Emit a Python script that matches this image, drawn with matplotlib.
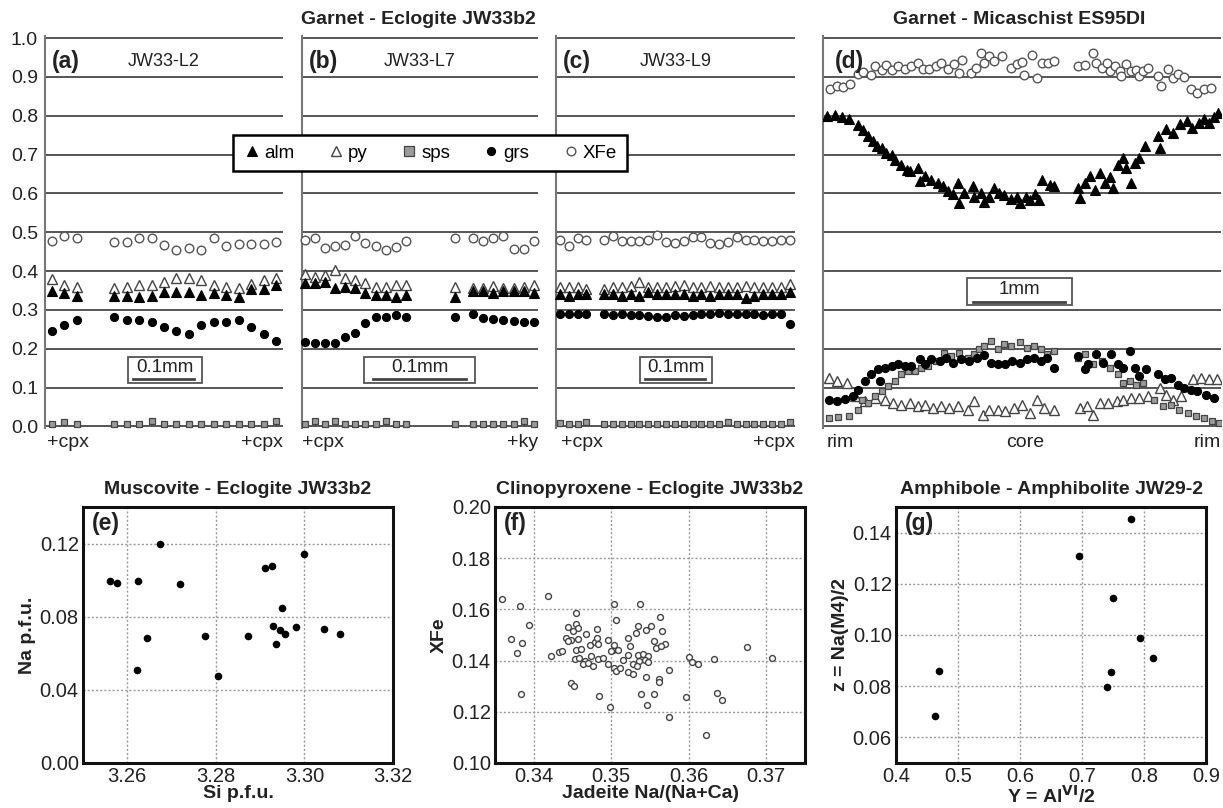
import matplotlib.pyplot as plt
from matplotlib.lines import Line2D
from matplotlib.patches import Rectangle

plt.rcParams['font.family'] = ['Liberation Sans', 'DejaVu Sans']

# ---------------- garnet profiles (a)-(c), Eclogite JW33b2 ----------------
a_x = [0, 1, 2, 5, 6, 7, 8, 9, 10, 11, 12, 13, 14, 15, 16, 17, 18]
a_xfe = [0.477, 0.49, 0.484, 0.475, 0.475, 0.486, 0.486, 0.468, 0.454, 0.46, 0.454, 0.486, 0.464, 0.471, 0.471, 0.471, 0.475]
a_py = [0.38, 0.363, 0.359, 0.356, 0.359, 0.363, 0.365, 0.373, 0.382, 0.382, 0.378, 0.365, 0.359, 0.356, 0.367, 0.378, 0.382]
a_alm = [0.35, 0.343, 0.337, 0.337, 0.337, 0.333, 0.337, 0.347, 0.347, 0.347, 0.339, 0.344, 0.339, 0.333, 0.353, 0.353, 0.363]
a_grs = [0.246, 0.261, 0.274, 0.281, 0.274, 0.274, 0.27, 0.255, 0.246, 0.239, 0.261, 0.27, 0.27, 0.275, 0.255, 0.239, 0.22]
a_sps = [0.006, 0.012, 0.006, 0.006, 0.006, 0.006, 0.013, 0.006, 0.006, 0.006, 0.006, 0.006, 0.006, 0.006, 0.006, 0.006, 0.013]

b_x = [0, 1, 2, 3, 4, 5, 6, 7, 8, 9, 10, 14.8, 16.6, 17.6, 18.6, 19.6, 20.6, 21.6, 22.6]
b_xfe = [0.481, 0.484, 0.46, 0.464, 0.468, 0.49, 0.472, 0.464, 0.455, 0.461, 0.478, 0.484, 0.484, 0.478, 0.484, 0.49, 0.456, 0.456, 0.478]
b_py = [0.392, 0.386, 0.389, 0.403, 0.382, 0.377, 0.369, 0.36, 0.36, 0.365, 0.365, 0.36, 0.356, 0.356, 0.362, 0.356, 0.356, 0.36, 0.365]
b_alm = [0.369, 0.369, 0.373, 0.356, 0.36, 0.356, 0.343, 0.339, 0.339, 0.334, 0.339, 0.334, 0.35, 0.35, 0.343, 0.35, 0.35, 0.35, 0.343]
b_grs = [0.218, 0.216, 0.216, 0.216, 0.231, 0.24, 0.266, 0.283, 0.283, 0.287, 0.283, 0.283, 0.289, 0.278, 0.277, 0.274, 0.272, 0.268, 0.268]
b_sps = [0.006, 0.013, 0.006, 0.013, 0.006, 0.006, 0.006, 0.006, 0.013, 0.006, 0.006, 0.006, 0.006, 0.006, 0.006, 0.006, 0.006, 0.013, 0.006]

c_x = [0, 1, 2, 3, 5, 6, 7, 8, 9, 10, 11, 12, 13, 14, 15, 16, 17, 18, 19, 20, 21, 22, 23, 24, 25, 26]
c_xfe = [0.48, 0.465, 0.485, 0.48, 0.48, 0.49, 0.477, 0.477, 0.477, 0.48, 0.493, 0.475, 0.472, 0.477, 0.487,
         0.487, 0.472, 0.47, 0.475, 0.487, 0.48, 0.48, 0.478, 0.478, 0.48, 0.48]
c_py = [0.36, 0.36, 0.36, 0.355, 0.355, 0.36, 0.36, 0.362, 0.372, 0.36, 0.36, 0.36, 0.362, 0.365, 0.36,
        0.36, 0.362, 0.36, 0.36, 0.36, 0.362, 0.36, 0.36, 0.36, 0.36, 0.367]
c_alm = [0.34, 0.335, 0.34, 0.34, 0.34, 0.34, 0.335, 0.34, 0.335, 0.345, 0.34, 0.34, 0.34, 0.34, 0.335,
         0.34, 0.335, 0.34, 0.34, 0.34, 0.33, 0.335, 0.34, 0.34, 0.34, 0.345]
c_grs = [0.29, 0.29, 0.29, 0.29, 0.29, 0.288, 0.29, 0.288, 0.288, 0.285, 0.283, 0.283, 0.288, 0.285, 0.288,
         0.29, 0.29, 0.293, 0.29, 0.29, 0.29, 0.29, 0.288, 0.29, 0.29, 0.265]
c_sps = [0.008, 0.006, 0.006, 0.012, 0.006, 0.006, 0.006, 0.006, 0.006, 0.006, 0.006, 0.006, 0.006, 0.006, 0.006,
         0.006, 0.006, 0.006, 0.012, 0.006, 0.006, 0.006, 0.006, 0.006, 0.006, 0.012]

# ---------------- garnet profile (d), Micaschist ES95DI (x = % of traverse) ----------------
d_xfe_x = [1.3, 3.0, 4.7, 6.4, 8.5, 9.7, 11.8, 12.7, 14.4, 15.6, 16.9, 18.6, 20.2, 21.9, 23.6, 24.9, 26.5, 28.2,
           29.5, 31.2, 32.8, 34.1, 34.9, 37.0, 38.3, 39.5, 40.4, 41.6, 42.9, 45.0, 47.1, 48.8, 50.0, 50.6, 52.6,
           53.8, 55.1, 56.7, 58.0, 64.3, 66.0, 68.1, 68.9, 70.2, 71.5, 72.3, 73.6, 74.8, 75.2, 76.5, 77.7, 79.0,
           79.8, 80.7, 81.9, 84.5, 85.3, 87.0, 88.3, 89.5, 91.2, 92.9, 94.5, 96.2, 97.9]
d_xfe = [0.87, 0.877, 0.875, 0.881, 0.907, 0.913, 0.904, 0.928, 0.918, 0.93, 0.918, 0.928, 0.92, 0.927, 0.935,
         0.92, 0.92, 0.928, 0.937, 0.921, 0.933, 0.911, 0.944, 0.911, 0.922, 0.961, 0.937, 0.954, 0.941, 0.953,
         0.922, 0.933, 0.939, 0.904, 0.956, 0.898, 0.935, 0.935, 0.941, 0.927, 0.93, 0.961, 0.937, 0.924, 0.937,
         0.916, 0.928, 0.916, 0.903, 0.933, 0.916, 0.918, 0.903, 0.916, 0.924, 0.903, 0.877, 0.92, 0.898, 0.907,
         0.901, 0.868, 0.859, 0.868, 0.872]

d_alm_x = [0.5, 2.6, 4.3, 6.0, 8.5, 9.7, 11.0, 12.3, 13.1, 14.4, 15.6, 16.9, 17.7, 19.4, 20.7, 21.5, 23.6, 24.0,
           25.3, 26.9, 28.6, 29.9, 31.2, 32.4, 33.7, 34.1, 35.4, 37.5, 37.9, 39.5, 40.4, 41.6, 42.9, 44.2, 45.4,
           47.1, 48.8, 49.6, 50.9, 52.1, 53.4, 54.3, 55.1, 57.2, 58.0, 64.3, 64.7, 66.0, 67.3, 68.5, 69.8, 71.0,
           72.3, 73.1, 74.4, 75.7, 76.5, 77.7, 78.6, 79.8, 81.1, 84.5, 84.9, 86.6, 88.3, 90.1, 91.8, 93.1, 94.8,
           96.1, 97.4, 98.6, 99.8]
d_alm = [0.8, 0.801, 0.797, 0.792, 0.775, 0.763, 0.747, 0.734, 0.721, 0.717, 0.704, 0.7, 0.687, 0.674, 0.661,
         0.657, 0.666, 0.631, 0.644, 0.635, 0.627, 0.618, 0.605, 0.599, 0.627, 0.575, 0.6, 0.618, 0.592, 0.6,
         0.579, 0.592, 0.614, 0.6, 0.597, 0.585, 0.592, 0.575, 0.592, 0.584, 0.599, 0.584, 0.635, 0.622, 0.618,
         0.614, 0.588, 0.627, 0.646, 0.61, 0.653, 0.627, 0.642, 0.614, 0.674, 0.692, 0.666, 0.627, 0.679, 0.692,
         0.721, 0.747, 0.717, 0.765, 0.756, 0.778, 0.786, 0.769, 0.782, 0.791, 0.782, 0.797, 0.806]

d_grs_x = [0.9, 3.0, 5.1, 7.2, 8.5, 10.2, 11.8, 13.5, 14.0, 15.2, 16.9, 18.6, 20.2, 21.9, 24.0, 25.3, 26.9, 29.1,
           30.7, 32.4, 34.5, 36.6, 38.7, 40.4, 42.1, 43.8, 45.8, 47.5, 49.6, 51.3, 53.0, 54.7, 56.4, 58.0, 64.3,
           66.0, 66.8, 68.9, 70.6, 72.7, 74.4, 75.7, 77.3, 78.6, 79.8, 81.4, 84.5, 86.2, 87.8, 89.5, 91.2, 92.9,
           94.5, 96.6, 98.7]
d_grs = [0.069, 0.065, 0.071, 0.078, 0.095, 0.117, 0.134, 0.147, 0.117, 0.151, 0.156, 0.16, 0.156, 0.156, 0.173,
         0.16, 0.173, 0.169, 0.177, 0.164, 0.173, 0.169, 0.177, 0.183, 0.164, 0.16, 0.162, 0.169, 0.164, 0.173,
         0.177, 0.169, 0.177, 0.151, 0.181, 0.147, 0.16, 0.186, 0.164, 0.186, 0.16, 0.151, 0.194, 0.151, 0.13,
         0.147, 0.134, 0.121, 0.125, 0.108, 0.099, 0.095, 0.091, 0.082, 0.073]

d_sps_x = [0.9, 3.4, 6.0, 8.5, 9.3, 11.0, 12.7, 14.4, 16.0, 17.7, 19.4, 21.1, 22.8, 24.4, 26.1, 28.2, 30.3, 31.9,
           34.1, 36.2, 37.9, 39.1, 40.4, 42.1, 43.8, 45.4, 47.1, 49.6, 51.3, 53.0, 54.7, 56.4, 58.0, 64.3, 66.0,
           68.1, 70.2, 72.3, 74.4, 75.7, 77.3, 79.0, 80.7, 83.6, 85.7, 87.8, 89.9, 92.0, 94.1, 96.2, 98.3, 100.0]
d_sps = [0.022, 0.024, 0.026, 0.043, 0.069, 0.06, 0.078, 0.091, 0.104, 0.117, 0.134, 0.143, 0.143, 0.151, 0.156,
         0.169, 0.19, 0.181, 0.19, 0.177, 0.186, 0.199, 0.207, 0.22, 0.199, 0.212, 0.207, 0.218, 0.203, 0.207,
         0.199, 0.186, 0.194, 0.177, 0.186, 0.16, 0.169, 0.151, 0.134, 0.112, 0.117, 0.108, 0.112, 0.069, 0.052,
         0.056, 0.043, 0.035, 0.026, 0.022, 0.013, 0.009]

d_py_x = [0.9, 3.0, 5.5, 7.6, 10.2, 12.7, 15.2, 17.3, 19.4, 21.5, 23.6, 25.3, 27.4, 29.5, 31.6, 33.7, 36.2, 37.9,
          40.0, 41.6, 43.8, 45.8, 47.9, 50.0, 52.1, 53.8, 55.5, 58.0, 64.7, 66.4, 68.1, 69.8, 71.9, 74.0, 75.7,
          77.7, 79.8, 81.9, 84.9, 86.6, 88.3, 90.3, 93.3, 95.4, 97.5, 99.6]
d_py = [0.125, 0.117, 0.112, 0.078, 0.065, 0.073, 0.069, 0.06, 0.056, 0.06, 0.052, 0.056, 0.048, 0.052, 0.048,
        0.052, 0.043, 0.065, 0.03, 0.043, 0.043, 0.039, 0.048, 0.056, 0.035, 0.069, 0.048, 0.043, 0.048, 0.052,
        0.03, 0.06, 0.06, 0.065, 0.069, 0.073, 0.073, 0.078, 0.099, 0.082, 0.069, 0.078, 0.121, 0.125, 0.123, 0.121]

# ---------------- (e) muscovite ----------------
e_si = [3.256, 3.2576, 3.2625, 3.2674, 3.2719, 3.2644, 3.2621, 3.2776, 3.2805, 3.2872, 3.2912, 3.2927, 3.30,
        3.295, 3.293, 3.2945, 3.2957, 3.298, 3.2936, 3.3044, 3.308]
e_na = [0.0998, 0.0983, 0.0993, 0.1195, 0.0978, 0.0686, 0.0506, 0.0697, 0.0478, 0.0697, 0.1066, 0.1075, 0.1145,
        0.0846, 0.075, 0.073, 0.0708, 0.0743, 0.0651, 0.0734, 0.0706]

# ---------------- (f) clinopyroxene ----------------
f_jd = [0.3359, 0.3382, 0.3394, 0.3371, 0.3385, 0.3379, 0.3384, 0.3419, 0.3422, 0.3432,
        0.3503, 0.3537, 0.3455, 0.3506, 0.3444, 0.3454, 0.3457, 0.3451, 0.3467, 0.3482,
        0.3442, 0.3448, 0.3457, 0.3444, 0.3436, 0.3455, 0.3461, 0.3453, 0.3459, 0.3466,
        0.3464, 0.347, 0.3476, 0.3483, 0.3472, 0.3479, 0.3481, 0.3483, 0.3496, 0.3502,
        0.3504, 0.3509, 0.35, 0.3496, 0.3504, 0.3506, 0.3511, 0.3515, 0.3521, 0.3521,
        0.3524, 0.3532, 0.3534, 0.3545, 0.3551, 0.3563, 0.3565, 0.3555, 0.3558, 0.3569,
        0.3564, 0.3528, 0.3521, 0.3528, 0.3534, 0.3541, 0.3547, 0.3543, 0.3536, 0.3548,
        0.3533, 0.3545, 0.3561, 0.3561, 0.3575, 0.3539, 0.3555, 0.3546, 0.3498, 0.3575,
        0.3484, 0.3448, 0.3452, 0.36, 0.3604, 0.3612, 0.3633, 0.3675, 0.3596, 0.3637,
        0.3643, 0.3474, 0.3489, 0.3707, 0.3622]
f_xfe = [0.164, 0.1613, 0.1539, 0.1486, 0.1468, 0.1431, 0.127, 0.1652, 0.1418, 0.1435,
         0.1623, 0.1623, 0.1585, 0.1559, 0.153, 0.1543, 0.1526, 0.1514, 0.1503, 0.1523,
         0.1488, 0.1481, 0.1484, 0.1475, 0.1436, 0.1443, 0.1445, 0.1406, 0.141, 0.1397,
         0.1385, 0.1391, 0.1378, 0.1406, 0.1462, 0.1471, 0.1488, 0.1466, 0.1481, 0.1443,
         0.1462, 0.1443, 0.1436, 0.1385, 0.1372, 0.1359, 0.1372, 0.1404, 0.1423, 0.1488,
         0.1458, 0.1507, 0.1537, 0.152, 0.1535, 0.1569, 0.1517, 0.1475, 0.1449, 0.1466,
         0.1458, 0.1385, 0.1355, 0.1346, 0.1423, 0.1427, 0.1419, 0.1404, 0.1397, 0.1394,
         0.1378, 0.1337, 0.1329, 0.1316, 0.1363, 0.1268, 0.1268, 0.1226, 0.1217, 0.1181,
         0.1262, 0.1314, 0.1301, 0.1413, 0.1394, 0.1388, 0.1408, 0.1455, 0.1259, 0.1275,
         0.1245, 0.1417, 0.141, 0.1409, 0.111]

# ---------------- (g) amphibole ----------------
g_y = [0.7786, 0.695, 0.7495, 0.7937, 0.8153, 0.7474, 0.7398, 0.4696, 0.4636]
g_z = [0.1452, 0.1308, 0.1145, 0.099, 0.0911, 0.0857, 0.0795, 0.086, 0.0682]

STY = {
    'alm': dict(marker='^', mfc='black', mec='black', ms=6.5, mew=0.8),
    'py': dict(marker='^', mfc='white', mec='#444444', ms=6.5, mew=1.0),
    'sps': dict(marker='s', mfc='#9a9a9a', mec='#444444', ms=5, mew=0.9),
    'grs': dict(marker='o', mfc='black', mec='black', ms=5.8, mew=0.8),
    'xfe': dict(marker='o', mfc='white', mec='#555555', ms=6.2, mew=1.0),
}

fig = plt.figure(figsize=(12.23, 8.08), dpi=100)
W, H = 1223.0, 808.0


def px_rect(x0, x1, ytop, ybot):
    return [x0 / W, 1 - ybot / H, (x1 - x0) / W, (ybot - ytop) / H]


def garnet_axes(x0, x1, xlim, left_labels=False):
    ax = fig.add_axes(px_rect(x0, x1, 36.5, 428))
    ax.set_ylim(-0.004, 1.004)
    ax.set_xlim(*xlim)
    ax.set_yticks([i / 10 for i in range(11)])
    ax.set_yticklabels([f'{i / 10:.1f}' for i in range(11)])
    ax.set_xticks([])
    ax.grid(axis='y', color='#555555', lw=1.4)
    ax.set_axisbelow(True)
    for s in ['top', 'right', 'bottom']:
        ax.spines[s].set_visible(False)
    ax.spines['left'].set_color('#777777')
    ax.spines['left'].set_linewidth(1.5)
    ax.tick_params(length=0, labelleft=left_labels, labelsize=14, pad=5, labelcolor='#222222')
    return ax


def draw_garnet(ax, x, series):
    for key, y in series:
        ax.plot(x, y, ls='none', zorder=3, clip_on=False, **STY[key])


def scalebar(ax, bx0, bx1, ux0, ux1, by0, by1, uy, label):
    ax.add_patch(Rectangle((bx0, by0), bx1 - bx0, by1 - by0, transform=ax.transAxes,
                           fill=True, fc='white', ec='#555555', lw=1.3, zorder=4))
    ax.plot([ux0, ux1], [uy, uy], transform=ax.transAxes, color='#444444', lw=2, zorder=5)
    ax.text((bx0 + bx1) / 2, (by0 + by1) / 2 + 0.005, label, transform=ax.transAxes,
            ha='center', va='center', fontsize=13.5, color='#222222', zorder=5)


def panel_text(ax, tag, sample):
    ax.text(0.03, 0.935, tag, transform=ax.transAxes, ha='left', va='center',
            fontsize=16.5, fontweight='bold', color='#222222', zorder=5)
    if sample:
        ax.text(0.5, 0.935, sample, transform=ax.transAxes, ha='center', va='center',
                fontsize=13, color='#222222', zorder=5)


def foot(ax, xs):
    for xf, txt, ha in xs:
        ax.text(xf, -0.015, txt, transform=ax.transAxes, ha=ha, va='top', fontsize=14,
                color='#222222')


# (a)
ax_a = garnet_axes(45, 283, (-0.53, 18.53), left_labels=True)
draw_garnet(ax_a, a_x, [('xfe', a_xfe), ('py', a_py), ('alm', a_alm), ('grs', a_grs), ('sps', a_sps)])
panel_text(ax_a, '(a)', 'JW33-L2')
scalebar(ax_a, 0.349, 0.660, 0.37, 0.626, 0.115, 0.182, 0.125, '0.1mm')
foot(ax_a, [(0.01, '+cpx', 'left'), (1.0, '+cpx', 'right')])

# (b)
ax_b = garnet_axes(302, 538, (-0.25, 23.0))
draw_garnet(ax_b, b_x, [('xfe', b_xfe), ('py', b_py), ('alm', b_alm), ('grs', b_grs), ('sps', b_sps)])
panel_text(ax_b, '(b)', 'JW33-L7')
scalebar(ax_b, 0.263, 0.733, 0.30, 0.695, 0.115, 0.182, 0.125, '0.1mm')
foot(ax_b, [(0.0, '+cpx', 'left'), (1.0, '+ky', 'right')])

# (c)
ax_c = garnet_axes(556, 795, (-0.45, 26.6))
draw_garnet(ax_c, c_x, [('xfe', c_xfe), ('py', c_py), ('alm', c_alm), ('grs', c_grs), ('sps', c_sps)])
panel_text(ax_c, '(c)', 'JW33-L9')
scalebar(ax_c, 0.351, 0.653, 0.372, 0.623, 0.115, 0.182, 0.125, '0.1mm')
foot(ax_c, [(0.02, '+cpx', 'left'), (1.0, '+cpx', 'right')])

# (d)
ax_d = garnet_axes(823, 1221, (-0.5, 100.5))
ax_d.plot(d_xfe_x, d_xfe, ls='none', zorder=3, **STY['xfe'])
ax_d.plot(d_py_x, d_py, ls='none', zorder=3, **STY['py'])
ax_d.plot(d_sps_x, d_sps, ls='none', zorder=3, **STY['sps'])
ax_d.plot(d_grs_x, d_grs, ls='none', zorder=3, **STY['grs'])
ax_d.plot(d_alm_x, d_alm, ls='none', zorder=3, **STY['alm'])
panel_text(ax_d, '(d)', None)
scalebar(ax_d, 0.362, 0.626, 0.377, 0.608, 0.313, 0.382, 0.322, '1mm')
foot(ax_d, [(0.01, 'rim', 'left'), (0.508, 'core', 'center'), (1.0, 'rim', 'right')])

fig.text(418 / W, 1 - 20 / H, 'Garnet - Eclogite JW33b2', ha='center', va='center',
         fontsize=14, fontweight='bold', color='#222222')
fig.text(1019 / W, 1 - 20 / H, 'Garnet - Micaschist ES95DI', ha='center', va='center',
         fontsize=14, fontweight='bold', color='#222222')

handles = [Line2D([], [], ls='none', **STY[k]) for k in ['alm', 'py', 'sps', 'grs', 'xfe']]
handles[2].set_markersize(6.5)
leg = fig.legend(handles, ['alm', 'py', 'sps', 'grs', 'XFe'], loc='center',
                 bbox_to_anchor=(430 / W, 1 - 153 / H), ncol=5, frameon=True, fancybox=False,
                 edgecolor='black', framealpha=1, fontsize=13.5, handletextpad=0.15,
                 columnspacing=1.7, borderpad=0.5, handlelength=1.0)
leg.get_frame().set_linewidth(1.8)


# ---------------- bottom scatter panels ----------------
def scatter_axes(x0, x1, title, tag, xlabel, ylabel):
    ax = fig.add_axes(px_rect(x0, x1, 507, 763))
    ax.grid(True, color='#9a9a9a', ls=(0, (1.5, 1.5)), lw=1.0)
    ax.set_axisbelow(True)
    for s in ax.spines.values():
        s.set_linewidth(2.2)
        s.set_color('#111111')
    ax.tick_params(length=0, labelsize=14.5, pad=3, labelcolor='#222222')
    ax.set_title(title, fontsize=14, fontweight='bold', pad=9, color='#222222')
    ax.set_xlabel(xlabel, fontsize=14, fontweight='bold', labelpad=-1, color='#222222')
    ax.set_ylabel(ylabel, fontsize=14, fontweight='bold', labelpad=3, color='#222222')
    ax.text(0.03, 0.935, tag, transform=ax.transAxes, ha='left', va='center',
            fontsize=16.5, fontweight='bold', color='#222222')
    return ax


ax_e = scatter_axes(83, 393, 'Muscovite - Eclogite JW33b2', '(e)', 'Si p.f.u.', 'Na p.f.u.')
ax_e.scatter(e_si, e_na, s=20, color='black', zorder=3)
ax_e.set_xlim(3.25, 3.32)
ax_e.set_ylim(0, 0.14)
ax_e.set_xticks([3.26, 3.28, 3.30, 3.32])
ax_e.set_xticklabels(['3.26', '3.28', '3.30', '3.32'])
ax_e.set_yticks([0.0, 0.04, 0.08, 0.12])
ax_e.set_yticklabels(['0.00', '0.04', '0.08', '0.12'])

ax_f = scatter_axes(495, 805, 'Clinopyroxene - Eclogite JW33b2', '(f)', 'Jadeite Na/(Na+Ca)', 'XFe')
ax_f.scatter(f_jd, f_xfe, s=18, facecolors='white', edgecolors='#444444', linewidths=1.0, zorder=3)
ax_f.set_xlim(0.335, 0.375)
ax_f.set_ylim(0.10, 0.20)
ax_f.set_xticks([0.34, 0.35, 0.36, 0.37])
ax_f.set_xticklabels(['0.34', '0.35', '0.36', '0.37'])
ax_f.set_yticks([0.10, 0.12, 0.14, 0.16, 0.18, 0.20])
ax_f.set_yticklabels(['0.10', '0.12', '0.14', '0.16', '0.18', '0.20'])

ax_g = scatter_axes(896, 1206, 'Amphibole - Amphibolite JW29-2', '(g)', r'Y = Al$^{\mathbf{VI}}$/2', 'z = Na(M4)/2')
ax_g.scatter(g_y, g_z, s=20, color='black', zorder=3)
ax_g.set_xlim(0.4, 0.9)
ax_g.set_ylim(0.05, 0.15)
ax_g.set_xticks([0.4, 0.5, 0.6, 0.7, 0.8, 0.9])
ax_g.set_xticklabels(['0.4', '0.5', '0.6', '0.7', '0.8', '0.9'])
ax_g.set_yticks([0.06, 0.08, 0.10, 0.12, 0.14])
ax_g.set_yticklabels(['0.06', '0.08', '0.10', '0.12', '0.14'])

fig.savefig('out.png', dpi=100)
